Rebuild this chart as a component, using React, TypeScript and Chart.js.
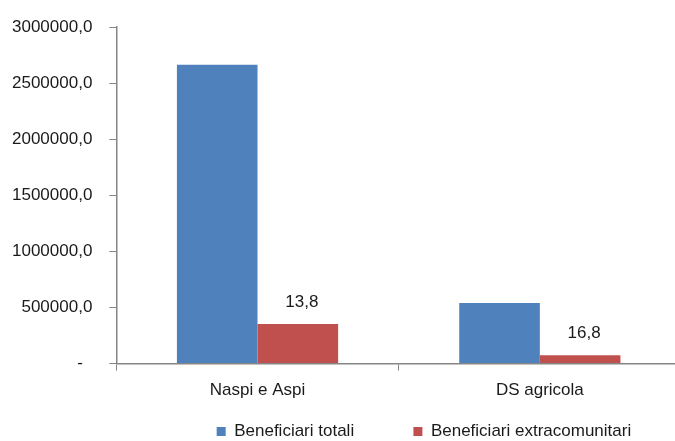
import React, { useEffect, useRef } from "react";
import { Chart, registerables } from "chart.js";

Chart.register(...registerables);

const categories = ["Naspi e Aspi", "DS agricola"];
const seriesNames = ["Beneficiari totali", "Beneficiari extracomunitari"];
const totali = [2666000, 540000];
const extracomunitari = [354000, 74000];
const extraLabels = ["13,8", "16,8"];
const yTicks = [0, 500000, 1000000, 1500000, 2000000, 2500000, 3000000];

const FONT = "'Liberation Sans', Arial, sans-serif";
const legendTrailing = [10, 8];

const labelPlugin = {
  id: "redLabels",
  afterDatasetsDraw(chart: any) {
    const meta = chart.getDatasetMeta(1);
    const ctx = chart.ctx;
    ctx.save();
    ctx.font = `17px ${FONT}`;
    ctx.fillStyle = "#1a1a1a";
    ctx.textAlign = "center";
    ctx.textBaseline = "middle";
    meta.data.forEach((el: any, i: number) => {
      ctx.fillText(extraLabels[i], el.x + 4, el.y - 22);
    });
    ctx.restore();
  },
};

export default function App() {
  const ref = useRef<HTMLCanvasElement | null>(null);
  useEffect(() => {
    document.body.style.overflow = "hidden";
    const chart = new Chart(ref.current as HTMLCanvasElement, {
      type: "bar",
      data: {
        labels: categories,
        datasets: [
          {
            label: seriesNames[0],
            data: totali,
            backgroundColor: "#4F81BD",
            categoryPercentage: 0.571,
            barPercentage: 1,
          },
          {
            label: seriesNames[1],
            data: extracomunitari,
            backgroundColor: "#C0504D",
            categoryPercentage: 0.571,
            barPercentage: 1,
          },
        ],
      },
      options: {
        animation: false,
        responsive: false,
        maintainAspectRatio: false,
        layout: { padding: { left: 12, right: 12, top: 14, bottom: 0 } },
        plugins: {
          tooltip: { enabled: false },
          legend: {
            position: "bottom",
            align: "end",
            labels: {
              boxWidth: 9,
              boxHeight: 9,
              padding: 12,
              color: "#1a1a1a",
              font: { family: FONT, size: 17 },
              generateLabels: (chart: any) => {
                const items = Chart.defaults.plugins.legend.labels.generateLabels(chart);
                return items.map((it: any, i: number) => ({
                  ...it,
                  text: it.text + " ".repeat(legendTrailing[i]),
                  lineWidth: 0,
                }));
              },
            },
          },
        },
        scales: {
          x: {
            grid: {
              offset: true,
              drawOnChartArea: false,
              tickLength: 7,
              color: "#868686",
            },
            border: { color: "#868686", width: 1.5 },
            ticks: {
              color: "#1a1a1a",
              padding: 10,
              font: { family: FONT, size: 17 },
            },
          },
          y: {
            min: 0,
            max: 3000000,
            afterBuildTicks: (axis: any) => {
              axis.ticks = yTicks.map((v) => ({ value: v }));
            },
            grid: {
              drawOnChartArea: false,
              tickLength: 7,
              color: "#868686",
            },
            border: { color: "#868686", width: 1.5 },
            ticks: {
              color: "#1a1a1a",
              padding: 17,
              font: { family: FONT, size: 17 },
              callback: (v: any) =>
                Number(v) === 0 ? "-  " : Number(v).toFixed(1).replace(".", ","),
            },
          },
        },
      },
      plugins: [labelPlugin],
    });
    return () => chart.destroy();
  }, []);
  return (
    <div style={{ position: "fixed", left: -17, top: 0, width: 710, height: 450 }}>
      <canvas ref={ref} width={710} height={450} />
    </div>
  );
}
